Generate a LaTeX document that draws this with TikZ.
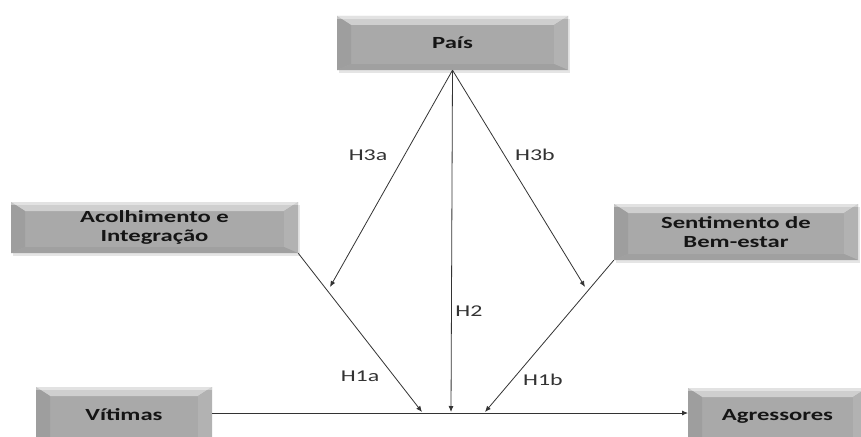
\documentclass[tikz,border=0pt]{standalone}
\usepackage{fontspec}
\setmainfont[FakeStretch=1.45]{Carlito}
\usetikzlibrary{arrows.meta,calc}
\definecolor{boxbase}{HTML}{A9A9A9}
\definecolor{bevtop}{HTML}{CFCFCF}
\definecolor{bevleft}{HTML}{9E9E9E}
\definecolor{bevright}{HTML}{B2B2B2}
\definecolor{bevbot}{HTML}{A0A0A0}
\definecolor{boxtext}{HTML}{151515}
\definecolor{linecol}{HTML}{333333}
\tikzset{
  bevbox/.style={rectangle, fill=boxbase, inner sep=0pt, align=center,
    font=\bfseries\fontsize{17}{19}\selectfont, text=boxtext,
    path picture={
      \coordinate (nw) at (path picture bounding box.north west);
      \coordinate (ne) at (path picture bounding box.north east);
      \coordinate (sw) at (path picture bounding box.south west);
      \coordinate (se) at (path picture bounding box.south east);
      \fill[bevtop] (nw) -- (ne) -- ($(ne)+(-14pt,-9pt)$) -- ($(nw)+(14pt,-9pt)$) -- cycle;
      \fill[bevleft] (nw) -- ($(nw)+(14pt,-9pt)$) -- ($(sw)+(14pt,6pt)$) -- (sw) -- cycle;
      \fill[bevright] (ne) -- ($(ne)+(-14pt,-9pt)$) -- ($(se)+(-14pt,6pt)$) -- (se) -- cycle;
      \fill[bevbot] (sw) -- ($(sw)+(14pt,6pt)$) -- ($(se)+(-14pt,6pt)$) -- (se) -- cycle;
      \fill[white,opacity=0.4] (nw) -- (ne) -- ($(ne)+(0pt,-3pt)$) -- ($(nw)+(0pt,-3pt)$) -- cycle;
    }},
  shadowbox/.style={fill=black!10},
  conn/.style={draw=linecol, line width=0.8pt, -{Latex[length=6pt,width=5pt]}},
  hlabel/.style={font=\fontsize{16.5}{18}\selectfont, text=linecol, inner sep=0pt}
}
\begin{document}
\begin{tikzpicture}[x=1pt,y=-1pt]
\useasboundingbox (0,0) rectangle (861,436);
\clip (0,0) rectangle (861,436);
\fill[white] (0,0) rectangle (861,436);
% shadows
\fill[shadowbox] (339,19) rectangle (570,73);
\fill[shadowbox] (13,205) rectangle (300,256);
\fill[shadowbox] (616,207) rectangle (860,263);
% boxes
\node[bevbox, minimum width=231pt, minimum height=54pt] (pais) at (452.5,43) {País};
\node[bevbox, minimum width=287pt, minimum height=51pt] (acol) at (154.5,227.5) {Acolhimento e\\Integração};
\node[bevbox, minimum width=244pt, minimum height=56pt] (sent) at (736,232) {Sentimento de\\Bem-estar};
\node[bevbox, minimum width=176pt, minimum height=56pt] (vit) at (124,415) {Vítimas};
\node[bevbox, minimum width=179pt, minimum height=56pt] (agr) at (777.5,416) {Agressores};
% arrow targets
\coordinate (t3a) at (330,287);
\coordinate (t3b) at (585,287);
\coordinate (t2) at (451,412);
\coordinate (t1a) at (422,412);
\coordinate (t1b) at (485,412);
\coordinate (vitr) at (212,413);
\coordinate (agrl) at (688,413);
% connectors
\draw[conn] (pais.south) -- (t3a);
\draw[conn] (pais.south) -- (t3b);
\draw[conn] (pais.south) -- (t2);
\draw[conn] (acol.south east) -- (t1a);
\draw[conn] (sent.south west) -- (t1b);
\draw[conn] (vitr) -- (agrl);
% labels
\node[hlabel] (l3a) at (368,155) {H3a};
\node[hlabel] (l3b) at (535,155) {H3b};
\node[hlabel] (l2) at (469,311) {H2};
\node[hlabel] (l1a) at (360,376) {H1a};
\node[hlabel] (l1b) at (543,380) {H1b};
\end{tikzpicture}
\end{document}
